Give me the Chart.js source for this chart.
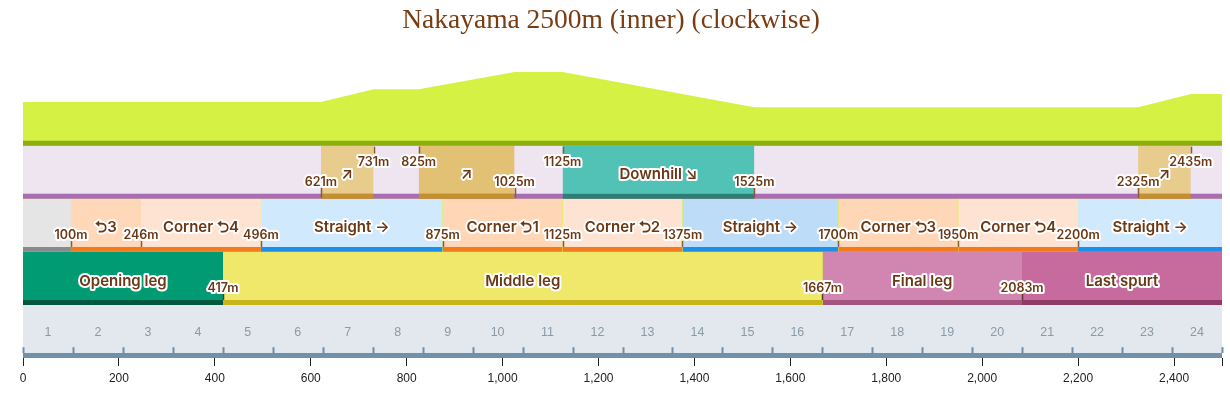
<!DOCTYPE html>
<html><head><meta charset="utf-8">
<script src="https://cdn.jsdelivr.net/npm/chart.js@4.4.1/dist/chart.umd.min.js"></script>
<style>html,body{margin:0;padding:0;background:#fff}#wrap{width:1230px;height:396px;position:relative}</style>
</head><body><div id="wrap"><canvas id="c"></canvas></div>
<script>
// ---------- DATA ----------
const TITLE = 'Nakayama 2500m (inner) (clockwise)';
const COURSE_LENGTH = 2500;

// elevation profile (distance m, relative height m)
const elevDistances = [0, 621, 731, 825, 1025, 1125, 1525, 2325, 2435, 2500];
const elevHeights   = [0.8, 0.8, 2.7, 2.7, 5.3, 5.3, 0.0, 0.0, 2.0, 2.0];

// slopes
const slopeStarts = [621, 825, 1125, 2325];
const slopeEnds   = [731, 1025, 1525, 2435];
const slopeLabels = ['↗', '↗', 'Downhill ↘', '↗'];
const slopeMarks  = [621, 731, 825, 1025, 1125, 1525, 2325, 2435];

// corners / straights
const sectionStarts = [0, 100, 246, 496, 875, 1125, 1375, 1700, 1950, 2200];
const sectionEnds   = [100, 246, 496, 875, 1125, 1375, 1700, 1950, 2200, 2500];
const sectionLabels = ['', '⮌3', 'Corner ⮌4', 'Straight →', 'Corner ⮌1', 'Corner ⮌2', 'Straight →', 'Corner ⮌3', 'Corner ⮌4', 'Straight →'];
const sectionKinds  = ['none', 'corner', 'corner', 'straight', 'corner', 'corner', 'straight', 'corner', 'corner', 'straight'];
const sectionMarks  = [100, 246, 496, 875, 1125, 1375, 1700, 1950, 2200];

// race phases
const phaseStarts = [0, 417, 1667, 2083];
const phaseEnds   = [417, 1667, 2083, 2500];
const phaseLabels = ['Opening leg', 'Middle leg', 'Final leg', 'Last spurt'];
const phaseMarks  = [417, 1667, 2083];

// furlongs
const furlongBounds = [0, 104.2, 208.3, 312.5, 416.7, 520.8, 625, 729.2, 833.3, 937.5, 1041.7, 1145.8, 1250,
  1354.2, 1458.3, 1562.5, 1666.7, 1770.8, 1875, 1979.2, 2083.3, 2187.5, 2291.7, 2395.8, 2500];
const furlongLabels = ['1','2','3','4','5','6','7','8','9','10','11','12','13','14','15','16','17','18','19','20','21','22','23','24'];

// x axis ticks
const xTickValues = [0, 200, 400, 600, 800, 1000, 1200, 1400, 1600, 1800, 2000, 2200, 2400, 2500];

// ---------- STYLE / LAYOUT ----------
const YMAX = 316.4;            // band layout units
const BAND = {
  bar: [0, 5], furlong: [5, 54],
  phaseStripe: [54, 59], phase: [59, 108],
  cornerStripe: [108, 113], corner: [113, 162],
  slopeStripe: [162, 167], slope: [167, 216],
  elevStripe: [216, 221]
};
const ELEV_BASE_U = 255, ELEV_PX_PER_M = 6.8;
const LABEL_COLOR = '#6b3815';
const slopeMarkHigh = [false, true, true, false, true, false, false, true];
const slopeFill   = ['#e8cc8e', '#e2c074', '#52c2b7', '#e8cc8e'];
const slopeStripe = ['#c4902e', '#c4902e', '#2f7e75', '#c4902e'];
const sectionFill = ['#e5e5e5', '#ffd8b9', '#ffe3d2', '#d1e9fc', '#ffd6b6', '#ffe3d2', '#bcdcf8', '#ffd6b6', '#ffe3d2', '#d1e9fc'];
const sectionStripe = {none: '#8a8a8a', corner: '#f47a1e', straight: '#1e8fe8'};
const phaseFill   = ['#009b72', '#f0e86a', '#d086b1', '#c76b9f'];
const phaseStripe = ['#00593f', '#c6b61c', '#a4537f', '#8e3b68'];

// ---------- DATASETS ----------
const datasets = [];
function rect(x0, x1, band, color, order) {
  datasets.push({
    type: 'line', yAxisID: 'y', order: order,
    data: [{x: x0, y: band[1]}, {x: x1, y: band[1]}],
    fill: {value: band[0]}, backgroundColor: color,
    borderColor: 'transparent', borderWidth: 0, pointRadius: 0, tension: 0
  });
}
// elevation
datasets.push({
  type: 'line', yAxisID: 'yE', order: 20,
  data: elevDistances.map((d, i) => ({x: d, y: elevHeights[i]})),
  fill: 'start', backgroundColor: '#d5f244', borderColor: 'transparent', borderWidth: 0, pointRadius: 0, tension: 0
});
rect(0, COURSE_LENGTH, BAND.elevStripe, '#8bad0d', 5);
// backgrounds
rect(0, COURSE_LENGTH, BAND.slope, '#efe5f0', 10);
rect(0, COURSE_LENGTH, BAND.slopeStripe, '#a96db6', 5);
rect(0, COURSE_LENGTH, BAND.furlong, '#e2e8ee', 10);
rect(0, COURSE_LENGTH, BAND.bar, '#7090ac', 5);
slopeStarts.forEach((s, i) => { rect(s, slopeEnds[i], BAND.slope, slopeFill[i], 8); rect(s, slopeEnds[i], BAND.slopeStripe, slopeStripe[i], 4); });
sectionStarts.forEach((s, i) => { rect(s, sectionEnds[i], BAND.corner, sectionFill[i], 8); rect(s, sectionEnds[i], BAND.cornerStripe, sectionStripe[sectionKinds[i]], 4); });
phaseStarts.forEach((s, i) => { rect(s, phaseEnds[i], BAND.phase, phaseFill[i], 8); rect(s, phaseEnds[i], BAND.phaseStripe, phaseStripe[i], 4); });

// ---------- LABEL PLUGIN ----------
const labelPlugin = {
  id: 'bandLabels',
  afterDatasetsDraw(chart) {
    const {ctx, scales: {x, y}} = chart;
    const px = v => x.getPixelForValue(v);
    const py = v => y.getPixelForValue(v);
    ctx.save();
    function tick(v, u0, u1, color, w) {
      ctx.beginPath(); ctx.strokeStyle = color; ctx.lineWidth = w;
      const xx = Math.round(px(v)) + 0.5;
      ctx.moveTo(xx, py(u0)); ctx.lineTo(xx, py(u1)); ctx.stroke();
    }
    function halo(text, xp, yp, size) {
      ctx.font = '600 ' + size + 'px Inter, "Noto Sans", "DejaVu Sans", sans-serif';
      ctx.textAlign = 'center'; ctx.textBaseline = 'middle';
      ctx.lineJoin = 'round'; ctx.lineWidth = 4; ctx.strokeStyle = '#ffffff';
      ctx.strokeText(text, xp, yp);
      ctx.fillStyle = LABEL_COLOR; ctx.fillText(text, xp, yp);
    }
    // ticks
    slopeMarks.forEach((m, i) => {
      if (slopeMarkHigh[i]) tick(m, 215, 208, '#8a5a3a', 1.5); else tick(m, 173, 163, '#8a5a3a', 1.5);
    });
    sectionMarks.forEach(m => tick(m, 119, 113, '#8a5a3a', 1.5));
    phaseMarks.forEach(m => tick(m, 66, 59, '#5a3a2a', 1.5));
    furlongBounds.forEach(m => tick(m, 11, 5, '#6f8fab', 2));
    // main labels
    slopeStarts.forEach((s, i) => halo(slopeLabels[i], px((s + slopeEnds[i]) / 2), py(186.5), 15));
    sectionStarts.forEach((s, i) => { if (sectionLabels[i]) halo(sectionLabels[i], px((s + sectionEnds[i]) / 2), py(133), 15); });
    phaseStarts.forEach((s, i) => halo(phaseLabels[i], px((s + phaseEnds[i]) / 2), py(78), 15));
    // boundary labels
    slopeMarks.forEach((m, i) => halo(m + 'm', px(m), py(slopeMarkHigh[i] ? 199 : 179), 12.5));
    sectionMarks.forEach(m => halo(m + 'm', px(m), py(125), 12.5));
    phaseMarks.forEach(m => halo(m + 'm', px(m), py(70.7), 12.5));
    // furlong numbers
    ctx.font = '12.5px "Liberation Sans", Arial, sans-serif';
    ctx.fillStyle = '#8a9aa8'; ctx.textAlign = 'center'; ctx.textBaseline = 'middle';
    furlongLabels.forEach((t, i) => ctx.fillText(t, px((furlongBounds[i] + furlongBounds[i + 1]) / 2), py(26)));
    ctx.restore();
  }
};

new Chart(document.getElementById('c'), {
  type: 'line',
  data: {datasets},
  options: {
    responsive: true, maintainAspectRatio: false, animation: false, events: [],
    layout: {padding: {left: 0, right: 8, top: 0, bottom: 5.6}},
    plugins: {
      legend: {display: false}, tooltip: {enabled: false},
      title: {display: true, text: TITLE, color: '#7a3c12',
        font: {family: "'Liberation Serif', 'Times New Roman', serif", size: 27.5, weight: 'normal', lineHeight: 1.2},
        padding: {top: 4, bottom: 10}}
    },
    scales: {
      x: {type: 'linear', min: 0, max: COURSE_LENGTH,
        afterBuildTicks: axis => { axis.ticks = xTickValues.map(v => ({value: v})); },
        ticks: {autoSkip: false, maxRotation: 0, color: '#222', font: {size: 12}, padding: 5,
          callback: v => v === COURSE_LENGTH ? '' : v.toLocaleString('en-US')},
        grid: {drawOnChartArea: false, drawTicks: true, tickLength: 8, color: '#222'},
        border: {display: false}},
      y: {display: true, position: 'left', min: 0, max: YMAX,
        ticks: {display: false}, grid: {display: false}, border: {display: false},
        afterFit: axis => { axis.width = 23; }},
      yE: {display: false, min: (0 - ELEV_BASE_U) / ELEV_PX_PER_M, max: (YMAX - ELEV_BASE_U) / ELEV_PX_PER_M}
    }
  },
  plugins: [labelPlugin]
});
</script></body></html>
